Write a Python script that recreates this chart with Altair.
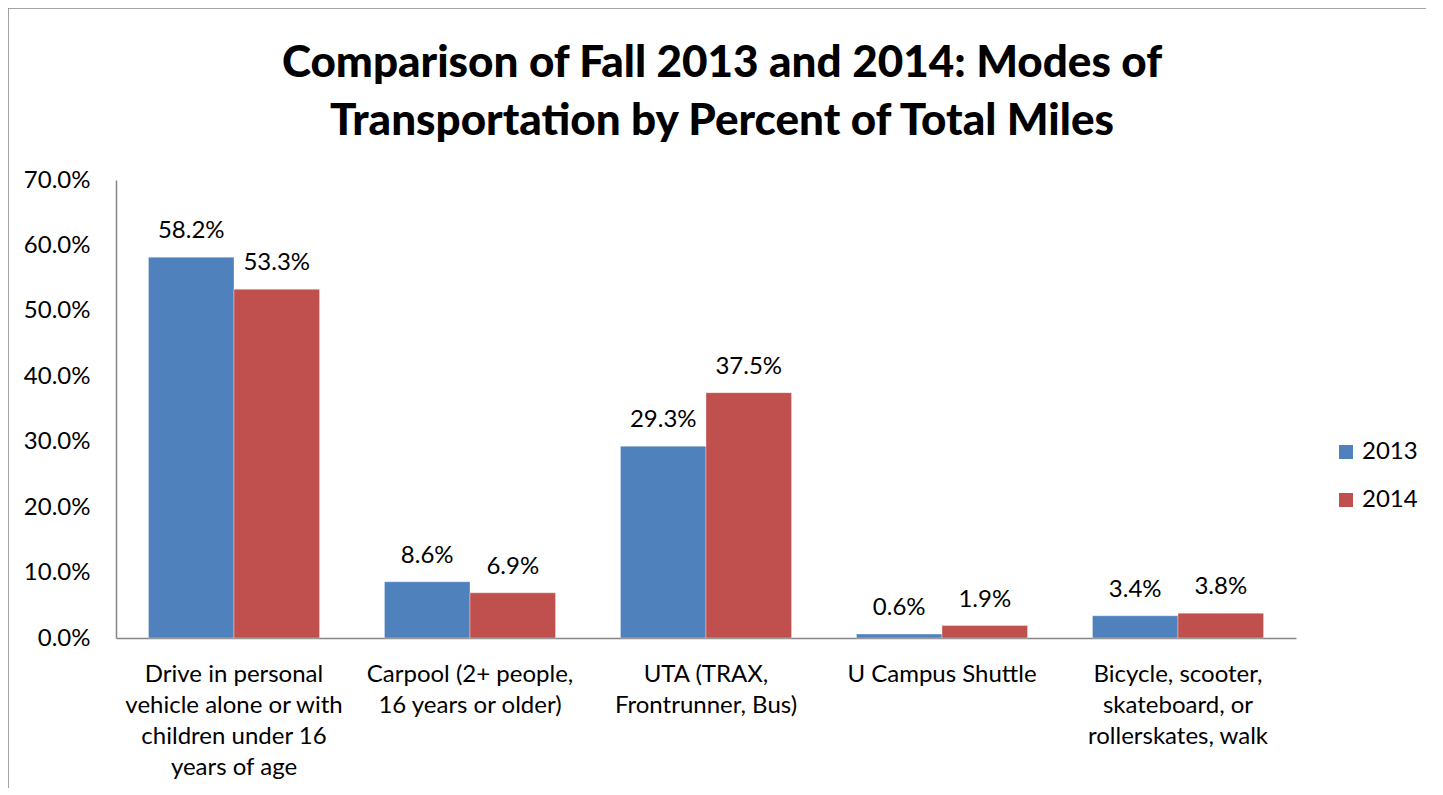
import altair as alt
import pandas as pd

categories = [
    ["Drive in personal", "vehicle alone or with", "children under 16", "years of age"],
    ["Carpool (2+ people,", "16 years or older)"],
    ["UTA (TRAX,", "Frontrunner, Bus)"],
    ["U Campus Shuttle"],
    ["Bicycle, scooter,", "skateboard, or", "rollerskates, walk"],
]
years = ["2013", "2014"]
values_2013 = [0.582, 0.086, 0.293, 0.006, 0.034]
values_2014 = [0.533, 0.069, 0.375, 0.019, 0.038]
y_ticks = [0.0, 0.1, 0.2, 0.3, 0.4, 0.5, 0.6, 0.7]
colors = ["#4F81BD", "#C0504D"]

cat_names = ["\n".join(c) for c in categories]
rows = []
for i, c in enumerate(cat_names):
    rows.append({"Mode": c, "Year": "2013", "Value": values_2013[i]})
    rows.append({"Mode": c, "Year": "2014", "Value": values_2014[i]})
df = pd.DataFrame(rows)

FONT = "Lato"
FS = 24
W, H = 1180, 458

x_enc = alt.X(
    "Mode:N",
    sort=cat_names,
    scale=alt.Scale(paddingInner=0.275, paddingOuter=0.1375),
    axis=alt.Axis(
        title=None,
        labelAngle=0,
        labelExpr="split(datum.label, '\\n')",
        labelFontSize=FS,
        labelFont=FONT,
        labelColor="#000000",
        labelLineHeight=31,
        labelPadding=24,
        labelBaseline="top",
        ticks=False,
        domainColor="#868686",
        domainWidth=1.5,
        labelLimit=300,
    ),
)
xo_enc = alt.XOffset("Year:N", sort=years, scale=alt.Scale(paddingInner=0, paddingOuter=0))
y_scale = alt.Scale(domain=[0, 0.7], nice=False)

bars = alt.Chart(df).mark_bar(stroke="#ffffff", strokeOpacity=0.35, strokeWidth=1).encode(
    x=x_enc,
    xOffset=xo_enc,
    y=alt.Y(
        "Value:Q",
        scale=y_scale,
        axis=alt.Axis(
            title=None,
            values=y_ticks,
            format=".1%",
            grid=False,
            ticks=False,
            labelFontSize=FS,
            labelFont=FONT,
            labelColor="#000000",
            labelPadding=26,
            domainColor="#868686",
            domainWidth=1.5,
        ),
    ),
    color=alt.Color(
        "Year:N",
        sort=years,
        scale=alt.Scale(domain=years, range=colors),
        legend=alt.Legend(
            title=None,
            orient="none",
            legendX=1218,
            legendY=260,
            symbolType="square",
            symbolSize=196,
            symbolStrokeWidth=0,
            labelFontSize=FS,
            labelFont=FONT,
            labelColor="#000000",
            rowPadding=24,
            labelOffset=4,
        ),
    ),
)

labels = alt.Chart(df).mark_text(
    baseline="alphabetic", dy=-19, fontSize=FS, font=FONT, color="#000000"
).encode(
    x=alt.X("Mode:N", sort=cat_names),
    xOffset=xo_enc,
    y=alt.Y("Value:Q", scale=y_scale),
    text=alt.Text("Value:Q", format=".1%"),
)

frame = alt.Chart(pd.DataFrame({"a": [0]})).mark_rect(
    fill=None, stroke="#868686", strokeWidth=1.5, clip=False
).encode(
    x=alt.value(-108), x2=alt.value(1317), y=alt.value(-172), y2=alt.value(700)
)

chart = alt.layer(frame, bars, labels).properties(
    width=W,
    height=H,
    title=alt.Title(
        ["Comparison of Fall 2013 and 2014: Modes of", "Transportation by Percent of Total Miles"],
        fontSize=44,
        font=FONT,
        fontWeight=900,
        color="#000000",
        lineHeight=58,
        anchor="middle",
        dx=16,
        dy=137,
        offset=0,
    ),
    autosize=alt.AutoSizeParams(type="none"),
    padding={"left": 108, "top": 172, "right": 130, "bottom": 150},
).configure_view(stroke=None)

chart.save("out.html", embed_options={"renderer": "svg", "actions": False})
